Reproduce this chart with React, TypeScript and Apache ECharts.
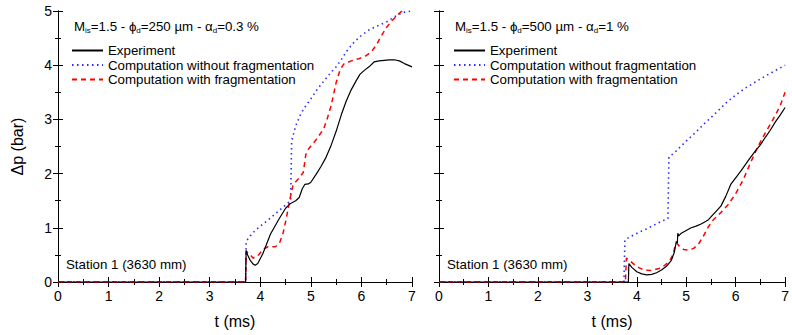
import React, { useEffect, useRef } from 'react';
import * as echarts from 'echarts';

const FONT = "'Liberation Sans', Arial, Helvetica, sans-serif";

const tMin = 0;
const tMax = 7;
const pMin = 0;
const pMax = 5;

const names = ['Experiment', 'Computation without fragmentation', 'Computation with fragmentation'];
const stationLabel = 'Station 1 (3630 mm)';

// Left panel: phi_d = 250 um, alpha_d = 0.3 %
const expL: number[][] = [
  [0, 0], [3.71, 0], [3.72, 0.58], [3.75, 0.5], [3.8, 0.4], [3.86, 0.33], [3.9, 0.31], [3.95, 0.34],
  [4.05, 0.52], [4.2, 0.88], [4.35, 1.13], [4.5, 1.36], [4.6, 1.45], [4.7, 1.5], [4.77, 1.56],
  [4.83, 1.72], [4.88, 1.8], [4.95, 1.81], [5.0, 1.84], [5.1, 1.98], [5.2, 2.13], [5.3, 2.3],
  [5.4, 2.52], [5.5, 2.78], [5.6, 3.08], [5.7, 3.34], [5.8, 3.55], [5.9, 3.72], [5.97, 3.83],
  [6.05, 3.9], [6.15, 3.97], [6.25, 4.06], [6.35, 4.08], [6.45, 4.09], [6.55, 4.1], [6.65, 4.1],
  [6.75, 4.08], [6.85, 4.03], [7, 3.97],
];
const noFragL: number[][] = [
  [0, 0], [3.71, 0], [3.72, 0.75], [3.8, 0.85], [3.9, 0.95], [4.0, 1.03], [4.15, 1.14], [4.3, 1.26],
  [4.45, 1.38], [4.6, 1.5], [4.62, 2.6], [4.7, 2.88], [4.8, 3.1], [4.9, 3.25], [5.0, 3.38],
  [5.1, 3.52], [5.25, 3.7], [5.4, 3.87], [5.5, 3.97], [5.6, 4.1], [5.7, 4.25], [5.85, 4.42],
  [6.0, 4.55], [6.15, 4.65], [6.3, 4.72], [6.5, 4.8], [6.7, 4.92], [6.85, 4.98], [7, 5.0],
];
const fragL: number[][] = [
  [0, 0], [3.71, 0], [3.72, 0.57], [3.78, 0.52], [3.86, 0.44], [3.95, 0.48], [4.05, 0.6], [4.15, 0.65],
  [4.3, 0.65], [4.38, 0.72], [4.45, 0.9], [4.52, 1.2], [4.58, 1.5], [4.65, 1.8], [4.75, 1.9],
  [4.85, 2.02], [4.9, 2.35], [4.95, 2.45], [5.1, 2.62], [5.25, 2.82], [5.32, 3.0], [5.4, 3.25],
  [5.5, 3.68], [5.58, 3.92], [5.65, 4.02], [5.8, 4.08], [5.95, 4.12], [6.1, 4.18], [6.2, 4.25],
  [6.3, 4.38], [6.4, 4.55], [6.5, 4.7], [6.6, 4.82], [6.72, 4.93], [6.8, 5.0], [7, 5.2],
];

// Right panel: phi_d = 500 um, alpha_d = 1 %
const expR: number[][] = [
  [0, 0], [3.83, 0], [3.84, 0.34], [3.9, 0.27], [4.0, 0.19], [4.1, 0.15], [4.2, 0.13], [4.3, 0.14],
  [4.4, 0.17], [4.5, 0.22], [4.6, 0.29], [4.7, 0.4], [4.76, 0.55], [4.8, 0.75], [4.82, 0.72],
  [4.83, 0.9], [4.85, 0.85], [4.9, 0.9], [5.0, 0.95], [5.1, 1.0], [5.2, 1.03], [5.3, 1.07],
  [5.4, 1.12], [5.45, 1.15], [5.5, 1.2], [5.6, 1.3], [5.7, 1.4], [5.8, 1.58], [5.9, 1.8],
  [6.0, 1.92], [6.1, 2.04], [6.2, 2.17], [6.3, 2.3], [6.4, 2.42], [6.5, 2.53], [6.6, 2.67],
  [6.7, 2.8], [6.8, 2.95], [6.9, 3.08], [7, 3.22],
];
const noFragR: number[][] = [
  [0, 0], [3.74, 0], [3.76, 0.78], [3.9, 0.85], [4.05, 0.92], [4.2, 0.98], [4.35, 1.05], [4.5, 1.12],
  [4.63, 1.17], [4.65, 2.3], [4.8, 2.42], [5.0, 2.6], [5.2, 2.77], [5.4, 2.95], [5.6, 3.12],
  [5.8, 3.3], [6.0, 3.45], [6.2, 3.58], [6.4, 3.69], [6.6, 3.8], [6.8, 3.9], [7, 4.0],
];
const fragR: number[][] = [
  [0, 0], [3.77, 0], [3.79, 0.44], [3.85, 0.4], [3.95, 0.32], [4.05, 0.26], [4.15, 0.22], [4.3, 0.21],
  [4.45, 0.25], [4.57, 0.31], [4.67, 0.4], [4.73, 0.5], [4.78, 0.68], [4.81, 0.72], [4.86, 0.66],
  [4.95, 0.6], [5.05, 0.59], [5.15, 0.62], [5.25, 0.7], [5.35, 0.85], [5.45, 1.02], [5.55, 1.15],
  [5.7, 1.28], [5.85, 1.43], [6.0, 1.63], [6.15, 1.88], [6.3, 2.2], [6.45, 2.5], [6.6, 2.75],
  [6.75, 2.99], [6.9, 3.25], [7, 3.5],
];

const titleL = { diam: '250', alpha: '0.3' };
const titleR = { diam: '500', alpha: '1' };

function titleText(t: { diam: string; alpha: string }) {
  return `{a|M}{s|is}{a|=1.5 - \u03D5}{s|d}{a|=${t.diam} \u00B5m - \u03B1}{s|d}{a|=${t.alpha} %}`;
}

const richStyle = {
  a: { fontSize: 13.3, fontFamily: FONT, fill: '#000', lineHeight: 16 },
  s: { fontSize: 8, fontFamily: FONT, fill: '#000', lineHeight: 8, verticalAlign: 'bottom' },
};

function xAx(grid: number, top: boolean) {
  return {
    type: 'value', gridIndex: grid, min: tMin, max: tMax, interval: 1,
    position: top ? 'top' : 'bottom',
    axisLine: { show: true, lineStyle: { color: '#000', width: 1 } },
    axisTick: { show: true, inside: true, length: 5, lineStyle: { color: '#000' } },
    minorTick: { show: true, splitNumber: 2, length: 3, lineStyle: { color: '#000' } },
    splitLine: { show: false },
    axisLabel: { show: !top, fontSize: 14, color: '#000', fontFamily: FONT, margin: 7 },
    name: top ? '' : 't (ms)',
    nameLocation: 'middle', nameGap: 31,
    nameTextStyle: { fontSize: 16, color: '#000', fontFamily: FONT },
  };
}

function yAx(grid: number, right: boolean, labels: boolean) {
  return {
    type: 'value', gridIndex: grid, min: pMin, max: pMax, interval: 1,
    position: right ? 'right' : 'left',
    axisLine: { show: true, lineStyle: { color: '#000', width: 1 } },
    axisTick: { show: true, inside: true, length: 5, lineStyle: { color: '#000' } },
    minorTick: { show: true, splitNumber: 2, length: 3, lineStyle: { color: '#000' } },
    splitLine: { show: false },
    axisLabel: { show: labels, fontSize: 14, color: '#000', fontFamily: FONT, margin: 6 },
    name: labels ? '\u0394p (bar)' : '',
    nameLocation: 'middle', nameGap: 33,
    nameTextStyle: { fontSize: 16, color: '#000', fontFamily: FONT },
  };
}

function seriesFor(xi: number, yi: number, exp: number[][], noFrag: number[][], frag: number[][]) {
  return [
    {
      name: names[1], type: 'line', xAxisIndex: xi, yAxisIndex: yi, data: noFrag, symbol: 'none',
      lineStyle: { color: '#2a2aff', width: 1.6, type: [1.5, 3.5] }, itemStyle: { color: '#2a2aff' },
    },
    {
      name: names[2], type: 'line', xAxisIndex: xi, yAxisIndex: yi, data: frag, symbol: 'none',
      lineStyle: { color: '#ff0000', width: 1.5, type: [5, 4] }, itemStyle: { color: '#ff0000' },
    },
    {
      name: names[0], type: 'line', xAxisIndex: xi, yAxisIndex: yi, data: exp, symbol: 'none',
      lineStyle: { color: '#000', width: 1.2, type: 'solid' }, itemStyle: { color: '#000' },
    },
  ];
}

function legendAt(left: number) {
  return {
    data: names, left, top: 44, orient: 'vertical', itemWidth: 31, itemHeight: 14, itemGap: 1.5,
    padding: 0, selectedMode: false,
    itemStyle: { opacity: 0, color: 'transparent', borderWidth: 0 },
    textStyle: { fontSize: 13.3, color: '#000', fontFamily: FONT },
  };
}

export default function App() {
  const ref = useRef<HTMLDivElement>(null);
  useEffect(() => {
    if (!ref.current) return;
    const chart = echarts.init(ref.current, undefined, { renderer: 'svg' });
    chart.setOption({
      animation: false,
      backgroundColor: '#fff',
      textStyle: { fontFamily: FONT },
      grid: [
        { left: 58, top: 11, width: 354, height: 271 },
        { left: 439, top: 11, width: 353, height: 271 },
      ],
      xAxis: [xAx(0, false), xAx(0, true), xAx(1, false), xAx(1, true)],
      yAxis: [yAx(0, false, true), yAx(0, true, false), yAx(1, false, false), yAx(1, true, false)],
      legend: [legendAt(71), legendAt(453)],
      series: [...seriesFor(0, 0, expL, noFragL, fragL), ...seriesFor(2, 2, expR, noFragR, fragR)],
      graphic: [
        { type: 'text', left: 74, top: 20, style: { text: titleText(titleL), rich: richStyle, fill: '#000' } },
        { type: 'text', left: 455, top: 20, style: { text: titleText(titleR), rich: richStyle, fill: '#000' } },
        { type: 'text', left: 66, top: 258, style: { text: stationLabel, fontSize: 13.3, fontFamily: FONT, fill: '#000' } },
        { type: 'text', left: 447, top: 258, style: { text: stationLabel, fontSize: 13.3, fontFamily: FONT, fill: '#000' } },
      ],
    });
    return () => chart.dispose();
  }, []);
  return <div ref={ref} style={{ position: 'absolute', left: 0, top: 0, width: 792, height: 335 }} />;
}
